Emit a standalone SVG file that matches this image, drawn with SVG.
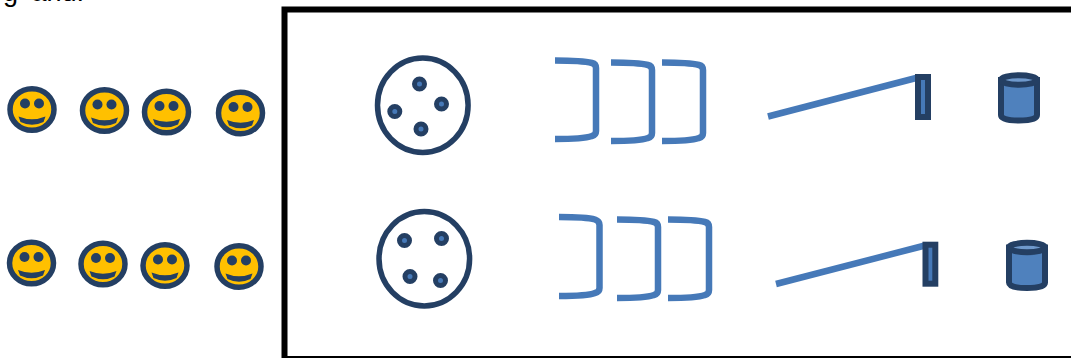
<svg xmlns="http://www.w3.org/2000/svg" width="1071" height="358" viewBox="0 0 1071 358">
<style>
.bl{stroke:#4679b8;fill:none;stroke-width:6.5;stroke-linejoin:round}
.face{fill:#ffc000;stroke:#243f63;stroke-width:5.5}
.eye{fill:#243f63}
.mouth{fill:#243f63}
.well{fill:#fff;stroke:#243f63;stroke-width:5.5}
.dot{fill:#4679b8;stroke:#243f63;stroke-width:5}
.mirror{fill:#4679b8;stroke:#243f63;stroke-width:6}
.cyl{fill:#4f81bd;stroke:#243f63;stroke-width:6}
.cap{fill:#6f99cc;stroke:#243f63;stroke-width:6}
</style>
<defs>
<g id="smiley">
<ellipse class="face" cx="0" cy="0" rx="22" ry="20.700"/>
<circle class="eye" cx="-7" cy="-6" r="5"/>
<circle class="eye" cx="7" cy="-6" r="5"/>
<path class="mouth" d="M-13.500 7 Q0 12.500 13.500 7 L11.500 12.500 Q0 18 -11.500 12.500 Z"/>
</g>
</defs>
<text x="3" y="0.800" font-family="Liberation Sans, Arial, sans-serif" font-size="27" word-spacing="6" fill="#000">g and.</text>
<rect id="frame" x="284.500" y="9.500" width="800" height="349.500" fill="none" stroke="#000" stroke-width="6"/>
<g id="smiley-1"><use href="#smiley" x="32" y="109.500"/></g>
<g id="smiley-2"><use href="#smiley" x="104.500" y="110.500"/></g>
<g id="smiley-3"><use href="#smiley" x="166.500" y="112"/></g>
<g id="smiley-4"><use href="#smiley" x="240.500" y="113"/></g>
<g id="smiley-5"><use href="#smiley" x="31.500" y="263"/></g>
<g id="smiley-6"><use href="#smiley" x="103" y="264"/></g>
<g id="smiley-7"><use href="#smiley" x="165" y="265.500"/></g>
<g id="smiley-8"><use href="#smiley" x="239" y="266.500"/></g>
<g id="well-top">
<ellipse class="well" cx="422.800" cy="105.300" rx="45.300" ry="47.200"/>
<circle class="dot" cx="419.500" cy="84" r="5"/><circle class="dot" cx="441.500" cy="104" r="5"/><circle class="dot" cx="394.800" cy="111.500" r="5"/><circle class="dot" cx="421" cy="129" r="5"/>
</g>
<g id="well-bottom">
<ellipse class="well" cx="424.300" cy="258.800" rx="45.300" ry="47.200"/>
<circle class="dot" cx="404.500" cy="240.500" r="5"/><circle class="dot" cx="441.500" cy="238.500" r="5"/><circle class="dot" cx="410" cy="276.500" r="5"/><circle class="dot" cx="440.500" cy="280.500" r="5"/>
</g>
<g id="lens-top">
<path class="bl" d="M555 60.500 C572 60.500 586 61.500 592 63 Q596 64 596 68 V131 Q596 135 592 136 C586 138 572 139 555 139"/>
<path class="bl" d="M611 62.500 C628 62.500 642 63.500 648 65 Q652 66 652 70 V133 Q652 137 648 138 C642 140 628 141 611 141"/>
<path class="bl" d="M662 62.500 C679 62.500 693 63.500 699 65 Q703 66 703 70 V133 Q703 137 699 138 C693 140 679 141 662 141"/>
</g>
<g id="lens-bottom">
<path class="bl" d="M559 217 C576 217 590 218 595 219.500 Q599.500 221 599.500 225 V288 Q599.500 292 595 293 C590 295 576 296 559 296"/>
<path class="bl" d="M617 219.500 C634 219.500 648 220.500 654 222 Q658 223 658 227 V290 Q658 294 654 295 C648 297 634 298 617 298"/>
<path class="bl" d="M668 219.500 C685 219.500 699 220.500 705 222 Q709 223 709 227 V290 Q709 294 705 295 C699 297 685 298 668 298"/>
</g>
<g id="connectors">
<line class="bl" x1="768" y1="116.500" x2="918" y2="77.500"/>
<line class="bl" x1="776" y1="284" x2="925" y2="245.500"/>
</g>
<g id="slit-top"><rect class="mirror" x="918" y="77" width="10" height="40"/></g>
<g id="slit-bottom"><rect class="mirror" x="925.500" y="244.700" width="9.800" height="39"/></g>
<g id="detector-top">
<path class="cyl" d="M1001 80 V115 Q1001 120.500 1019 120.500 Q1037 120.500 1037 115 V80 Z"/>
<ellipse class="cap" cx="1019" cy="80" rx="18" ry="4.700"/>
</g>
<g id="detector-bottom">
<path class="cyl" d="M1009 247.500 V282.500 Q1009 288 1027 288 Q1045 288 1045 282.500 V247.500 Z"/>
<ellipse class="cap" cx="1027" cy="247.500" rx="18" ry="4.700"/>
</g>
</svg>
